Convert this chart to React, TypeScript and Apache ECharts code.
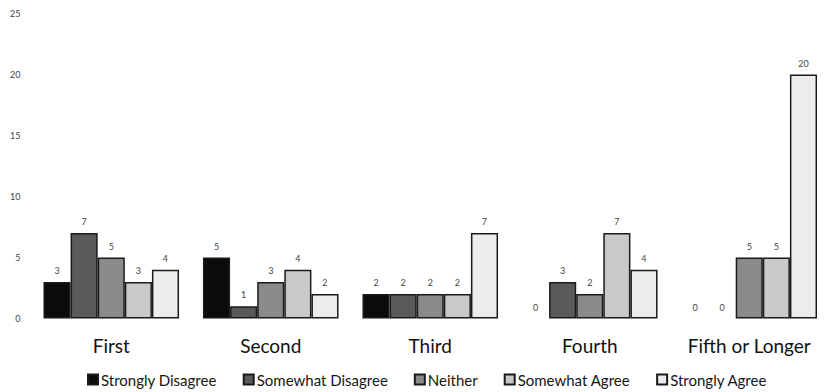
import React, { useEffect, useRef } from "react";
import * as echarts from "echarts";

const categories = ["First", "Second", "Third", "Fourth", "Fifth or Longer"];
const seriesNames = [
  "Strongly Disagree",
  "Somewhat Disagree",
  "Neither",
  "Somewhat Agree",
  "Strongly Agree",
];
const stronglyDisagree = [3, 5, 2, 0, 0];
const somewhatDisagree = [7, 1, 2, 3, 0];
const neither = [5, 3, 2, 2, 5];
const somewhatAgree = [3, 4, 2, 7, 5];
const stronglyAgree = [4, 2, 7, 4, 20];
const seriesValues = [stronglyDisagree, somewhatDisagree, neither, somewhatAgree, stronglyAgree];
const fills = ["#0b0b0b", "#5a5a5a", "#8a8a8a", "#c9c9c9", "#ececec"];
const yTicks = [0, 5, 10, 15, 20, 25];

const FONT = "Lato, 'Open Sans', sans-serif";

export default function App() {
  const ref = useRef<HTMLDivElement>(null);

  useEffect(() => {
    if (!ref.current) return;
    const chart = echarts.init(ref.current, undefined, { renderer: "svg" });
    chart.setOption({
      animation: false,
      backgroundColor: "#ffffff",
      textStyle: { fontFamily: FONT },
      grid: { left: 31.5, right: -7, top: 13.5, bottom: 73.5 },
      legend: {
        top: 367,
        left: 82,
        icon: "rect",
        itemWidth: 10,
        itemHeight: 10,
        itemGap: 26,
        textStyle: { fontSize: 15, color: "#161616", fontFamily: FONT, padding: [0, 0, 0, -2] },
        data: seriesNames,
      },
      xAxis: {
        type: "category",
        data: categories,
        axisLine: { show: false },
        axisTick: { show: false },
        axisLabel: { interval: 0, fontSize: 19, color: "#111111", margin: 17, fontFamily: FONT },
      },
      yAxis: {
        type: "value",
        min: yTicks[0],
        max: yTicks[yTicks.length - 1],
        interval: 5,
        splitLine: { show: false },
        axisLine: { show: false },
        axisTick: { show: false },
        axisLabel: { fontSize: 9, color: "#444444", margin: 11, fontFamily: FONT },
      },
      series: seriesNames.map((name, i) => ({
        name,
        type: "bar",
        barGap: "0%",
        barCategoryGap: "15%",
        itemStyle: { color: fills[i], borderColor: "#1a1a1a", borderWidth: 1.5 },
        label: {
          show: true,
          position: "top",
          distance: 7,
          fontSize: 9,
          color: "#444444",
          fontFamily: FONT,
        },
        data: seriesValues[i].map((v) =>
          v === 0 ? { value: v, itemStyle: { borderWidth: 0 } } : v
        ),
      })),
    });
    return () => chart.dispose();
  }, []);

  return (
    <div
      ref={ref}
      style={{ position: "absolute", left: 0, top: 0, width: 829, height: 392 }}
    />
  );
}
